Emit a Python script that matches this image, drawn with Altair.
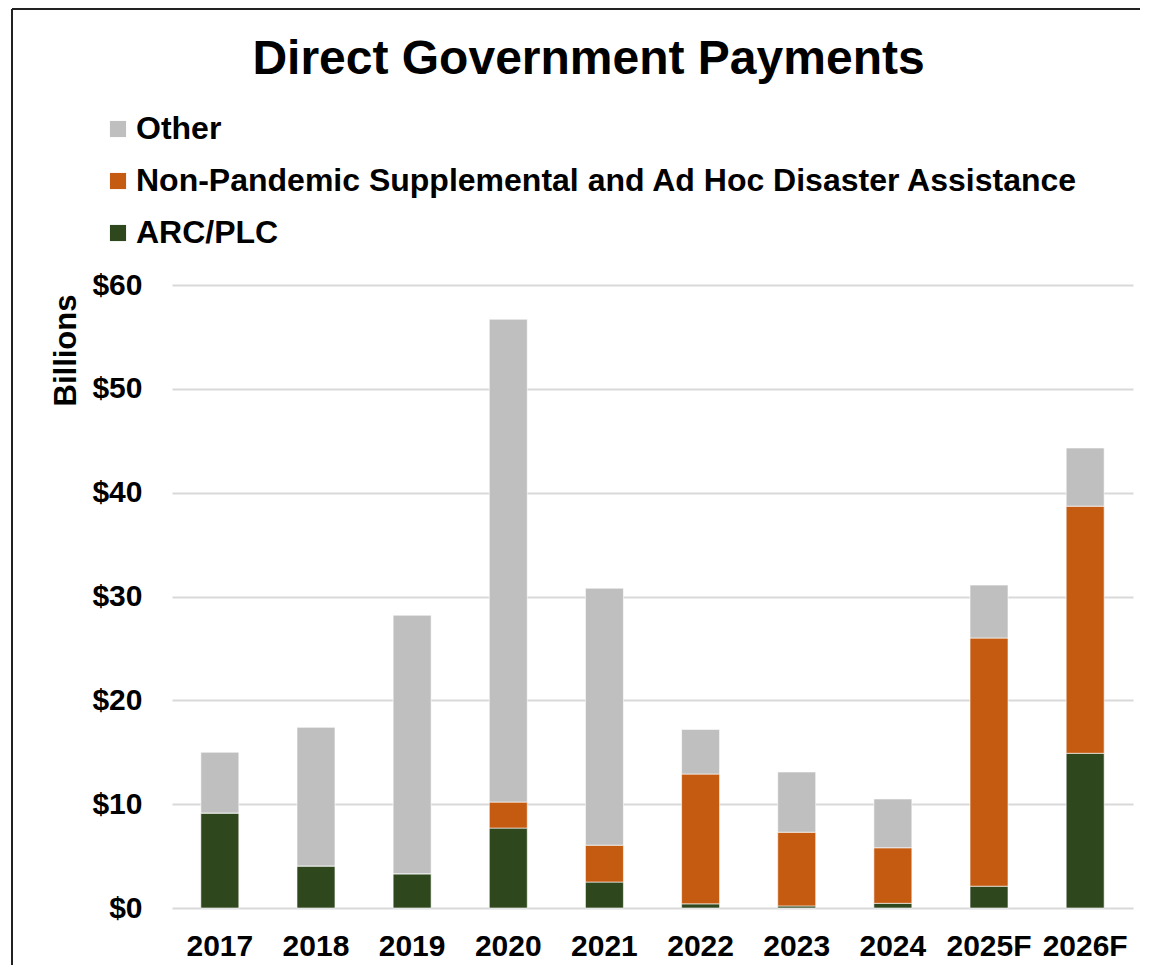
import altair as alt
import pandas as pd

years = ["2017", "2018", "2019", "2020", "2021", "2022", "2023", "2024", "2025F", "2026F"]
arc_plc = [9.15, 4.05, 3.3, 7.7, 2.5, 0.4, 0.2, 0.45, 2.1, 14.9]
non_pandemic = [0.0, 0.0, 0.0, 2.5, 3.55, 12.5, 7.1, 5.35, 23.9, 23.8]
other = [5.85, 13.35, 24.9, 46.5, 24.75, 4.3, 5.8, 4.7, 5.1, 5.6]

series_names = ["Other", "Non-Pandemic Supplemental and Ad Hoc Disaster Assistance", "ARC/PLC"]
series_colors = ["#BFBFBF", "#C55A11", "#2E471D"]
y_ticks = [0, 10, 20, 30, 40, 50, 60]

rows = []
for i, yr in enumerate(years):
    for rank, (name, vals) in enumerate([("ARC/PLC", arc_plc),
                                          ("Non-Pandemic Supplemental and Ad Hoc Disaster Assistance", non_pandemic),
                                          ("Other", other)]):
        rows.append({"Year": yr, "Series": name, "Value": vals[i], "Rank": rank})
df = pd.DataFrame(rows)

FONT = "Liberation Sans"

bars = alt.Chart(df).mark_bar(stroke="#ffffff", strokeWidth=0.6).encode(
    x=alt.X("Year:N", sort=years,
            scale=alt.Scale(paddingInner=0.605, paddingOuter=0.30),
            axis=alt.Axis(title=None, labelAngle=0, labelFont=FONT, labelFontSize=30,
                          labelFontWeight="bold", labelColor="#000000", ticks=False,
                          domain=False, labelPadding=23, grid=False)),
    y=alt.Y("Value:Q", stack="zero",
            scale=alt.Scale(domain=[0, 60], nice=False),
            axis=alt.Axis(title="Billions", values=y_ticks, labelExpr="'$' + datum.value",
                          labelFont=FONT, labelFontSize=30, labelFontWeight="bold",
                          labelColor="#000000", ticks=False, domain=False, labelPadding=30,
                          grid=True, gridColor="#D9D9D9", gridWidth=2,
                          titleFont=FONT, titleFontSize=31, titleFontWeight="bold",
                          titleColor="#000000", titleX=-90, titleY=65, titleAlign="center",
                          titleBaseline="bottom", titleAngle=270)),
    color=alt.Color("Series:N",
                    scale=alt.Scale(domain=series_names, range=series_colors),
                    legend=alt.Legend(title=None, orient="none", legendX=-70, legendY=-172,
                                      symbolType="square", symbolSize=260, symbolStrokeWidth=0,
                                      labelFont=FONT, labelFontSize=32, labelFontWeight="bold",
                                      labelColor="#000000", rowPadding=20, labelOffset=2,
                                      labelLimit=1200)),
    order=alt.Order("Rank:Q", sort="ascending"),
)

frame_left = alt.Chart(pd.DataFrame({"k": [0]})).mark_rule(color="#222222", strokeWidth=2).encode(
    x=alt.value(-160), y=alt.value(-276), y2=alt.value(680))
frame_top = alt.Chart(pd.DataFrame({"k": [0]})).mark_rule(color="#222222", strokeWidth=2).encode(
    x=alt.value(-160), x2=alt.value(968), y=alt.value(-276))

chart = alt.layer(bars, frame_left, frame_top).properties(
    width=961, height=623,
    autosize=alt.AutoSizeParams(type="none"),
    padding={"left": 164, "top": 277, "right": 8, "bottom": 58},
    title=alt.TitleParams("Direct Government Payments", font=FONT, fontSize=48,
                          fontWeight="bold", color="#000000", anchor="middle",
                          frame="group", dx=-64, dy=80),
).configure_view(stroke=None)

chart.save("out.html", embed_options={"renderer": "svg", "actions": False})
